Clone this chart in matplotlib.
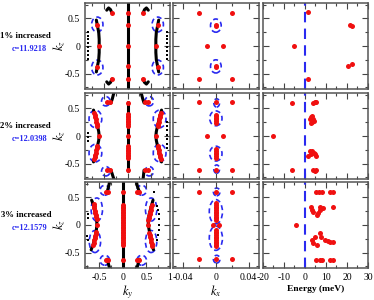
import matplotlib
matplotlib.use("Agg")
import matplotlib.pyplot as plt
from matplotlib.patches import Ellipse

plt.rcParams['font.family'] = ['Liberation Serif', 'DejaVu Serif']
plt.rcParams['mathtext.fontset'] = 'stix'
plt.rcParams['axes.unicode_minus'] = False

# ---------------- data ----------------
row_titles = ["1% increased", "2% increased", "3% increased"]
row_cvals = ["c=11.9218", "c=12.0398", "c=12.1579"]

# left column: (ky, kz)
r1_black = [
    [(0, -0.78), (0, 0.78)],
    [(-0.66, 0.47), (-0.64, 0.38), (-0.61, 0.25), (-0.6, 0.12), (-0.6, 0), (-0.6, -0.12), (-0.61, -0.25), (-0.64, -0.38), (-0.66, -0.47)],
    [(0.66, 0.47), (0.64, 0.38), (0.61, 0.25), (0.6, 0.12), (0.6, 0), (0.6, -0.12), (0.61, -0.25), (0.64, -0.38), (0.66, -0.47)],
    [(-0.44, 0.65), (-0.4, 0.69), (-0.36, 0.66), (-0.33, 0.6)],
    [(0.44, 0.65), (0.4, 0.69), (0.36, 0.66), (0.33, 0.6)],
    [(-0.44, -0.65), (-0.4, -0.69), (-0.36, -0.66), (-0.33, -0.6)],
    [(0.44, -0.65), (0.4, -0.69), (0.36, -0.66), (0.33, -0.6)],
]
r1_black_dots = [(-0.83, 0.26), (-0.83, 0.19), (-0.83, 0.12), (-0.83, 0.05), (-0.83, -0.02), (-0.83, -0.09), (-0.83, -0.16), (-0.83, -0.23),
                 (0.83, 0.26), (0.83, 0.19), (0.83, 0.12), (0.83, 0.05), (0.83, -0.02), (0.83, -0.09), (0.83, -0.16), (0.83, -0.23)]
r1_red = [(0, 0.6), (0, 0.38), (0, 0), (0, -0.36), (0, -0.6), (-0.33, 0.6), (0.33, 0.6), (-0.33, -0.6), (0.33, -0.6),
          (-0.65, 0.38), (0.65, 0.38), (-0.65, -0.38), (0.65, -0.38), (-0.6, 0), (0.6, 0)]
r1_rings = [(-0.64, 0.39, 0.24, 0.27), (0.64, 0.39, 0.24, 0.27), (-0.64, -0.39, 0.24, 0.27), (0.64, -0.39, 0.24, 0.27)]

r2_black = [
    [(0, -0.64), (0, 0.62)],
    [(-0.72, 0.47), (-0.68, 0.35), (-0.64, 0.2), (-0.61, 0.08), (-0.6, 0), (-0.61, -0.08), (-0.64, -0.2), (-0.68, -0.35), (-0.72, -0.47)],
    [(0.72, 0.47), (0.68, 0.35), (0.64, 0.2), (0.61, 0.08), (0.6, 0), (0.61, -0.08), (0.64, -0.2), (0.68, -0.35), (0.72, -0.47)],
    [(-0.35, 0.6), (-0.32, 0.68), (-0.29, 0.78)],
    [(0.35, 0.6), (0.32, 0.68), (0.29, 0.78)],
    [(-0.35, -0.62), (-0.32, -0.7), (-0.29, -0.78)],
    [(0.35, -0.62), (0.34, -0.7), (0.33, -0.78)],
]
r2_black_dots = [(-0.83, 0.05), (-0.83, -0.02), (-0.83, -0.09),
                 (0.83, 0.25), (0.83, 0.18), (0.83, 0.1), (0.83, 0.02), (0.83, -0.06), (0.83, -0.14), (0.83, -0.22)]
r2_red = [(0, 0.6), (0, 0.4), (0, 0.37), (0, 0.34), (0, 0.31), (0, 0.28), (0, 0.25), (0, 0.22), (0, 0.19), (0, 0),
          (0, -0.4), (0, -0.37), (0, -0.34), (0, -0.31), (0, -0.28), (0, -0.25), (0, -0.22), (0, -0.19), (0, -0.62),
          (-0.7, 0.42), (-0.69, 0.38), (-0.68, 0.34), (-0.67, 0.3), (-0.66, 0.26), (-0.65, 0.22), (-0.64, 0.18), (-0.6, 0),
          (-0.7, -0.42), (-0.69, -0.38), (-0.68, -0.34), (-0.67, -0.3), (-0.66, -0.26), (-0.65, -0.22), (-0.64, -0.18),
          (0.7, 0.42), (0.69, 0.38), (0.68, 0.34), (0.67, 0.3), (0.66, 0.26), (0.65, 0.22), (0.64, 0.18), (0.6, 0),
          (0.7, -0.42), (0.69, -0.38), (0.68, -0.34), (0.67, -0.3), (0.66, -0.26), (0.65, -0.22), (0.64, -0.18),
          (-0.44, 0.61), (-0.38, 0.61), (0.38, 0.61), (0.44, 0.61), (-0.44, -0.62), (-0.38, -0.62), (0.38, -0.62), (0.44, -0.62)]
r2_rings = [(-0.68, 0.31, 0.27, 0.32), (0.68, 0.31, 0.27, 0.32), (-0.68, -0.31, 0.27, 0.32), (0.68, -0.31, 0.27, 0.32),
            (-0.46, 0.63, 0.18, 0.17), (0.46, 0.63, 0.18, 0.17), (-0.46, -0.64, 0.18, 0.17), (0.46, -0.64, 0.18, 0.17)]

r3_black = [
    [(0, -0.78), (0, 0.78)],
    [(-0.66, 0.45), (-0.62, 0.36), (-0.58, 0.22), (-0.55, 0.1), (-0.55, 0), (-0.56, -0.1), (-0.59, -0.22), (-0.63, -0.36), (-0.67, -0.45)],
    [(0.64, 0.45), (0.6, 0.33), (0.56, 0.2), (0.54, 0.1), (0.54, 0), (0.56, -0.1), (0.58, -0.2), (0.61, -0.34), (0.65, -0.45)],
    [(-0.33, 0.6), (-0.3, 0.7), (-0.28, 0.78)],
    [(0.35, 0.6), (0.31, 0.7), (0.29, 0.78)],
    [(-0.33, -0.62), (-0.3, -0.72), (-0.28, -0.78)],
    [(0.35, -0.62), (0.32, -0.72), (0.3, -0.78)],
]
r3_black_dots = [(0.72, 0.35), (0.74, 0.28), (0.76, 0.2), (0.77, 0.1), (0.77, 0.0), (0.76, -0.1), (0.75, -0.18), (0.72, -0.28),
                 (0.66, 0.6), (-0.73, 0.2), (-0.74, 0.12), (-0.75, -0.2), (-0.73, -0.28)]
r3_red = [(0, 0.6), (0, 0.36), (0, 0.33), (0, 0.3), (0, 0.27), (0, 0.24), (0, 0.21), (0, 0.18), (0, 0.15), (0, 0.12),
          (0, 0.09), (0, 0.06), (0, 0.03), (0, 0), (0, -0.03), (0, -0.06), (0, -0.09), (0, -0.12), (0, -0.15), (0, -0.18),
          (0, -0.21), (0, -0.24), (0, -0.27), (0, -0.3), (0, -0.33), (0, -0.36), (0, -0.64),
          (-0.35, 0.6), (-0.31, 0.6), (0.31, 0.6), (0.35, 0.6), (-0.35, -0.64), (-0.31, -0.64), (0.31, -0.64), (0.35, -0.64),
          (-0.62, 0.38), (-0.61, 0.34), (-0.6, 0.3), (-0.59, 0.26), (-0.58, 0.22), (-0.57, 0.18), (-0.56, 0.14), (-0.55, 0.1),
          (-0.55, 0), (-0.56, -0.12), (-0.57, -0.16), (-0.58, -0.2), (-0.59, -0.24), (-0.6, -0.28), (-0.62, -0.32), (-0.64, -0.36),
          (0.61, 0.36), (0.6, 0.32), (0.59, 0.28), (0.58, 0.24), (0.57, 0.2), (0.56, 0.16), (0.55, 0.12), (0.54, 0.09),
          (0.54, 0), (0.56, -0.14), (0.57, -0.18), (0.58, -0.22), (0.59, -0.26), (0.6, -0.3), (0.61, -0.34), (0.62, -0.38)]
r3_rings = [(-0.55, 0.28, 0.24, 0.42), (-0.59, -0.3, 0.24, 0.4), (0.6, 0.28, 0.24, 0.42), (0.6, -0.3, 0.24, 0.4),
            (-0.38, 0.63, 0.2, 0.18), (0.4, 0.63, 0.2, 0.18), (-0.38, -0.64, 0.2, 0.18), (0.4, -0.64, 0.2, 0.18)]

# middle column: (kx, kz)
m1_red = [(-0.021, 0.6), (0.02, 0.6), (0, 0.38), (0.0005, 0.36), (-0.011, 0), (0.009, 0),
          (0, -0.36), (0.0005, -0.38), (-0.021, -0.6), (0.02, -0.6)]
m1_rings = [(0, 0.37, 0.013, 0.24), (0, -0.37, 0.013, 0.24)]
m2_red = [(-0.02, 0.62), (0, 0.62), (0.02, 0.62), (0, 0.39), (0, 0.36), (0, 0.33), (0, 0.3), (0, 0.27), (0, 0.24),
          (-0.011, 0), (0.009, 0), (0, -0.39), (0, -0.36), (0, -0.33), (0, -0.3), (0, -0.27), (0, -0.24),
          (-0.02, -0.62), (0, -0.62), (0.02, -0.62)]
m2_rings = [(0.001, 0.6, 0.007, 0.15), (0, 0.32, 0.015, 0.27), (0, -0.32, 0.015, 0.27), (0.001, -0.6, 0.007, 0.15)]
m3_red = [(-0.02, 0.6), (0, 0.6), (0.02, 0.6), (0, 0.39), (0, 0.36), (0, 0.33), (0, 0.3), (0, 0.27), (0, 0.24),
          (0, 0.21), (0, 0.18), (0, 0.15), (0, 0.12), (0, 0.09), (-0.003, 0), (0.004, 0),
          (0, -0.09), (0, -0.12), (0, -0.15), (0, -0.18), (0, -0.21), (0, -0.24), (0, -0.27), (0, -0.3), (0, -0.33),
          (0, -0.36), (0, -0.39), (-0.02, -0.62), (0, -0.62), (0.02, -0.62)]
m3_rings = [(0.001, 0.6, 0.008, 0.14), (0, 0.24, 0.016, 0.44), (0, -0.24, 0.016, 0.44), (0.001, -0.62, 0.008, 0.14)]

# right column: (energy meV, kz)
e1_pts = [(1.6, 0.61), (-5.1, 0), (21.4, 0.38), (22.2, 0.36), (20.6, -0.36), (22.4, -0.33), (1.6, -0.59)]
e2_pts = [(-6.3, 0.6), (4.0, 0.6), (4.8, 0.61), (5.5, 0.61), (2.4, 0.3), (3.0, 0.34), (3.6, 0.36), (4.0, 0.3),
          (3.2, 0.26), (4.5, 0.27), (2.8, 0.24), (-15.0, 0), (2.6, -0.27), (3.4, -0.28), (4.2, -0.3), (5.0, -0.32),
          (5.5, -0.36), (3.0, -0.33), (1.6, -0.36), (-6.3, -0.62), (4.0, -0.62), (4.8, -0.63), (5.5, -0.62)]
e3_pts = [(5.2, 0.6), (6.8, 0.6), (8.0, 0.6), (12.0, 0.6), (13.5, 0.6), (-4.0, 0),
          (2.7, 0.33), (3.2, 0.28), (4.0, 0.24), (5.6, 0.18), (6.2, 0.22), (7.1, 0.27), (8.7, 0.3), (7.1, 0.33), (13.2, 0.33),
          (4.0, -0.33), (3.2, -0.27), (4.8, -0.21), (7.1, -0.15), (7.9, -0.21), (9.5, -0.27), (11.0, -0.29),
          (11.9, -0.3), (13.5, -0.3), (5.6, -0.36),
          (5.2, -0.64), (7.0, -0.64), (8.0, -0.64), (12.0, -0.64), (13.5, -0.64)]

left_black = [r1_black, r2_black, r3_black]
left_dots = [r1_black_dots, r2_black_dots, r3_black_dots]
left_red = [r1_red, r2_red, r3_red]
left_rings = [r1_rings, r2_rings, r3_rings]
mid_red = [m1_red, m2_red, m3_red]
mid_rings = [m1_rings, m2_rings, m3_rings]
en_pts = [e1_pts, e2_pts, e3_pts]
left_xlims = [(-0.9, 0.9), (-0.9, 0.9), (-0.8, 1.0)]

RED = '#f01010'
BLUE = '#2a2af0'

fig = plt.figure(figsize=(3.74, 3.0), dpi=100)

row_y0 = [0.7033, 0.4033, 0.1067]
h = 0.2867


def style(ax, xmaj, xmin):
    ax.set_ylim(-0.78, 0.78)
    ax.set_yticks([-0.5, 0, 0.5])
    ax.set_yticks([-0.75, -0.25, 0.25, 0.75], minor=True)
    ax.set_xticks(xmaj)
    ax.set_xticks(xmin, minor=True)
    ax.tick_params(which='both', direction='in', top=True, right=True, labelsize=7, width=0.8, color='#444444')
    ax.tick_params(which='major', length=4)
    ax.tick_params(which='minor', length=2)
    for s in ax.spines.values():
        s.set_linewidth(1.1)
        s.set_color('#555555')


def rings(ax, lst):
    for cx, cy, w, hh in lst:
        ax.add_patch(Ellipse((cx, cy), w, hh, fill=False, ec=BLUE, lw=1.2, ls=(0, (3, 2))))


for i in range(3):
    y0 = row_y0[i]
    last = (i == 2)

    # left: ky-kz
    ax = fig.add_axes([0.2273, y0, 0.2273, h])
    for seg in left_black[i]:
        ax.plot([p[0] for p in seg], [p[1] for p in seg], color='black', lw=2.2, solid_capstyle='round')
    ax.plot([p[0] for p in left_dots[i]], [p[1] for p in left_dots[i]], 's', color='black', ms=2, mew=0)
    ax.plot([p[0] for p in left_red[i]], [p[1] for p in left_red[i]], 'o', color=RED, ms=3.6, mew=0)
    rings(ax, left_rings[i])
    style(ax, [-0.5, 0, 0.5, 1.0], [-0.75, -0.25, 0.25, 0.75])
    ax.set_xlim(*left_xlims[i])
    ax.set_yticklabels(['-0.5', '0', '0.5'])
    ax.set_ylabel('$k_z$', fontsize=9)
    ax.yaxis.set_label_coords(-0.21, 0.5)
    if last:
        ax.set_xticklabels(['-0.5', '0', '0.5', '1'])
        ax.set_xlabel('$k_y$', fontsize=9, labelpad=1)
    else:
        ax.set_xticklabels([])

    # middle: kx-kz
    ax = fig.add_axes([0.4618, y0, 0.2307, h])
    ax.plot([p[0] for p in mid_red[i]], [p[1] for p in mid_red[i]], 'o', color=RED, ms=3.6, mew=0)
    rings(ax, mid_rings[i])
    style(ax, [-0.04, 0, 0.04], [-0.02, 0.02])
    ax.set_xlim(-0.0525, 0.0525)
    ax.set_yticklabels([])
    if last:
        ax.set_xticklabels(['-0.04', '0', '0.04'])
        ax.set_xlabel('$k_x$', fontsize=9, labelpad=1)
    else:
        ax.set_xticklabels([])

    # right: energy-kz
    ax = fig.add_axes([0.7024, y0, 0.2816, h])
    ax.axvline(0, color=BLUE, lw=1.5, dashes=(5, 3))
    ax.plot([p[0] for p in en_pts[i]], [p[1] for p in en_pts[i]], 'o', color=RED, ms=3.6, mew=0)
    style(ax, [-20, -10, 0, 10, 20, 30], [-15, -5, 5, 15, 25])
    ax.set_xlim(-20, 30)
    ax.set_yticklabels([])
    if last:
        ax.set_xticklabels(['-20', '-10', '0', '10', '20', '30'])
        ax.set_xlabel('Energy (meV)', fontsize=6.8, fontweight='bold', labelpad=2)
    else:
        ax.set_xticklabels([])

    # row captions
    fig.text(0.069, y0 + h * 0.62, row_titles[i], fontsize=6.3, fontweight='bold', ha='center', va='center')
    fig.text(0.078, y0 + h * 0.46, row_cvals[i], fontsize=6.0, fontweight='bold', color=BLUE, ha='center', va='center')

fig.savefig('out.png', dpi=100)
